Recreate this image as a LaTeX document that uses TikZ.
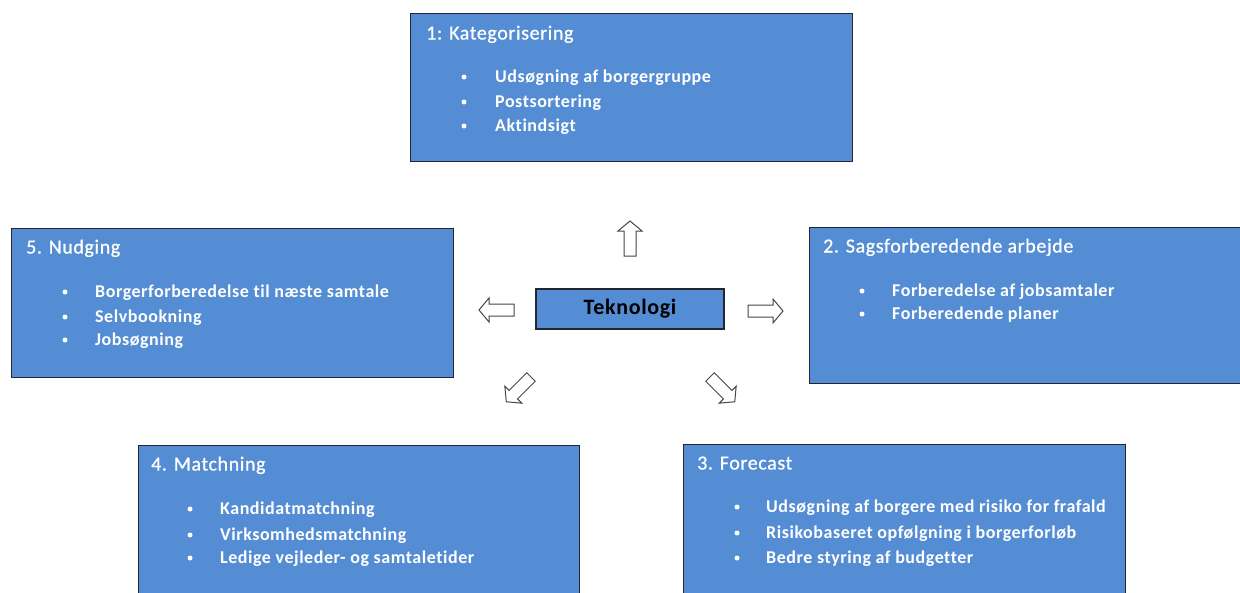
\documentclass[tikz,border=0pt]{standalone}
\usepackage{fontspec}
\setmainfont{Carlito}
\newfontfamily\spacedfont[LetterSpace=3, Ligatures=NoCommon]{Carlito}
\newfontfamily\titlefont[LetterSpace=3, Ligatures=NoCommon, FakeBold=0.7]{Carlito}
\definecolor{boxblue}{RGB}{84,141,212}
\definecolor{boxedge}{RGB}{35,38,48}
\definecolor{arrowedge}{RGB}{70,70,70}
\begin{document}
\begin{tikzpicture}[x=1pt,y=-1pt,
  panel/.style={draw=boxedge, line width=1.1pt, fill=boxblue, inner sep=0pt, anchor=north west},
  centerbox/.style={draw=boxedge, line width=1.1pt, fill=boxblue, inner sep=0pt, minimum width=188pt, minimum height=40pt,
     font=\spacedfont\bfseries\fontsize{22}{26}\selectfont, text=black},
  ttl/.style={anchor=west, text=white, inner sep=0pt, text height=0.72em, text depth=0.22em, yshift=-4pt,
     font=\titlefont\fontsize{20}{24}\selectfont},
  itm/.style={anchor=west, text=white, inner sep=0pt, text height=0.72em, text depth=0.22em, yshift=-3pt,
     font=\spacedfont\bfseries\fontsize{18}{21}\selectfont},
  bul/.style={fill=white, circle, inner sep=0pt, minimum size=5pt},
  blockarrow/.pic={\draw[line width=1pt, draw=arrowedge, fill=white, line join=miter]
     (0,-6) -- (25,-6) -- (25,-12) -- (35,0) -- (25,12) -- (25,6) -- (0,6) -- cycle;}
]
\useasboundingbox (0,0) rectangle (1240,592);
\clip (0,0) rectangle (1240,592);

% Box 1
\node[panel, minimum width=442pt, minimum height=148pt] (b1) at (410,13) {};
\node[ttl] (b1t) at (426,33) {1: Kategorisering};
\node[bul] (b1b1) at (464,77) {}; \node[itm] (b1i1) at (495,77) {Udsøgning af borgergruppe};
\node[bul] (b1b2) at (464,102) {}; \node[itm] (b1i2) at (495,102) {Postsortering};
\node[bul] (b1b3) at (464,126) {}; \node[itm] (b1i3) at (495,126) {Aktindsigt};

% Box 2
\node[panel, minimum width=450pt, minimum height=156pt] (b2) at (809,227) {};
\node[ttl] (b2t) at (823,246) {2. Sagsforberedende arbejde};
\node[bul] (b2b1) at (862,291) {}; \node[itm] (b2i1) at (892,291) {Forberedelse af jobsamtaler};
\node[bul] (b2b2) at (862,314) {}; \node[itm] (b2i2) at (892,314) {Forberedende planer};

% Box 5
\node[panel, minimum width=442pt, minimum height=149pt] (b5) at (11,228) {};
\node[ttl] (b5t) at (26,247) {5. Nudging};
\node[bul] (b5b1) at (65,292) {}; \node[itm] (b5i1) at (95,292) {Borgerforberedelse til næste samtale};
\node[bul] (b5b2) at (65,317) {}; \node[itm] (b5i2) at (95,317) {Selvbookning};
\node[bul] (b5b3) at (65,340) {}; \node[itm] (b5i3) at (95,340) {Jobsøgning};

% Box 4
\node[panel, minimum width=441pt, minimum height=170pt] (b4) at (138,445) {};
\node[ttl] (b4t) at (151,464) {4. Matchning};
\node[bul] (b4b1) at (190,509) {}; \node[itm] (b4i1) at (220,509) {Kandidatmatchning};
\node[bul] (b4b2) at (190,535) {}; \node[itm] (b4i2) at (220,535) {Virksomhedsmatchning};
\node[bul] (b4b3) at (190,558) {}; \node[itm] (b4i3) at (220,558) {Ledige vejleder- og samtaletider};

% Box 3
\node[panel, minimum width=442pt, minimum height=170pt] (b3) at (683,444) {};
\node[ttl] (b3t) at (697,463) {3. Forecast};
\node[bul] (b3b1) at (737,507) {}; \node[itm] (b3i1) at (766,507) {Udsøgning af borgere med risiko for frafald};
\node[bul] (b3b2) at (737,533) {}; \node[itm] (b3i2) at (766,533) {Risikobaseret opfølgning i borgerforløb};
\node[bul] (b3b3) at (737,558) {}; \node[itm] (b3i3) at (766,558) {Bedre styring af budgetter};

% Centre
\node[centerbox] (tek) at (630,309) {Teknologi};

% Block arrows
\pic[rotate=90] (aup) at (630,256) {blockarrow};
\pic[rotate=180] (aleft) at (514,310) {blockarrow};
\pic[rotate=0] (aright) at (748,311) {blockarrow};
\pic[rotate=225] (adl) at (531,377) {blockarrow};
\pic[rotate=-45] (adr) at (710,377) {blockarrow};
\end{tikzpicture}
\end{document}
